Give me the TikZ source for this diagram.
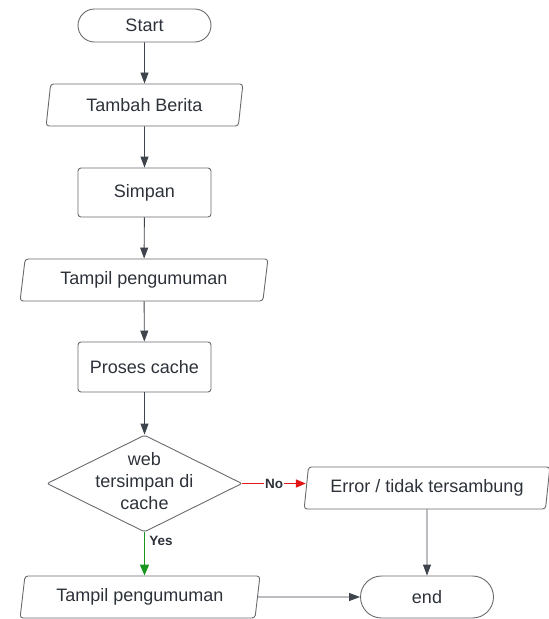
\documentclass[tikz,border=0pt]{standalone}
\usepackage{fontspec}
\setmainfont{Liberation Sans}
\usetikzlibrary{arrows.meta,shapes.geometric,positioning}
\definecolor{inkgray}{RGB}{45,50,58}
\definecolor{linegray}{RGB}{62,68,76}
\definecolor{boxgray}{RGB}{104,106,110}
\definecolor{nored}{RGB}{228,22,22}
\definecolor{yesgreen}{RGB}{24,150,30}

\tikzset{
  base/.style={draw=boxgray,line width=0.9pt,text=inkgray,font=\fontsize{18}{22}\selectfont,inner sep=0pt},
  terminal/.style={base,rectangle,rounded corners=#1,minimum width=133pt},
  process/.style={base,rectangle,rounded corners=3pt,minimum width=133pt,minimum height=49pt},
  io/.style={base,trapezium,trapezium left angle=78,trapezium right angle=102,
    trapezium stretches=true,rounded corners=3pt,minimum height=42pt},
  decision/.style={base,diamond,minimum width=195pt,minimum height=97pt,rounded corners=2pt},
  flow/.style={draw=linegray,line width=0.9pt,-{Triangle[length=11pt,width=8pt]}},
  tag/.style={font=\bfseries\fontsize{13.5}{15}\selectfont,text=inkgray,inner sep=1pt}
}

\begin{document}
\begin{tikzpicture}[x=1pt,y=1pt]
\useasboundingbox (0,0) rectangle (549,-619);
% boxes
\node[terminal=16.5pt,minimum height=33pt] (start) at (144.5,-25.5) {Start};
\node[io,minimum width=197pt] (tambah) at (144.5,-105) {Tambah Berita};
\node[process] (simpan) at (144.5,-192.5) {Simpan};
\node[io,minimum width=248pt] (tampil) at (144,-280) {Tampil pengumuman};
\node[process,minimum height=50pt] (proses) at (144.5,-367) {Proses cache};
\node[decision] (cek) at (144.5,-483.5) {};
\node[base,draw=none,align=center] (cektext) at (144.5,-481) {web\\tersimpan di\\cache};
\node[io,minimum width=246pt] (error) at (427,-488) {Error / tidak tersambung};
\node[io,minimum width=240pt] (tampilb) at (140,-597) {Tampil pengumuman};
\node[terminal=21pt,minimum height=42pt] (end) at (427,-597) {end};
% arrows
\draw[flow] (start) -- (tambah);
\draw[flow] (tambah) -- (simpan);
\draw[flow] (simpan) -- (tampil);
\draw[flow] (tampil) -- (proses);
\draw[flow] (proses) -- (cek);
\draw[flow,draw=nored,fill=nored,line width=1.6pt,-{Triangle[length=10pt,width=8pt]}] (cek.east) -- node[tag,fill=white] (no) {No} (cek.east -| error.west);
\draw[flow,draw=yesgreen,fill=yesgreen,line width=1.6pt,-{Triangle[length=11pt,width=9pt]}] (cek.south) -- node[tag,pos=0.2,right=3pt] (yes) {Yes} (cek.south |- tampilb.north);
\draw[flow] (error) -- (end);
\draw[flow] (tampilb) -- (end);
\end{tikzpicture}
\end{document}
